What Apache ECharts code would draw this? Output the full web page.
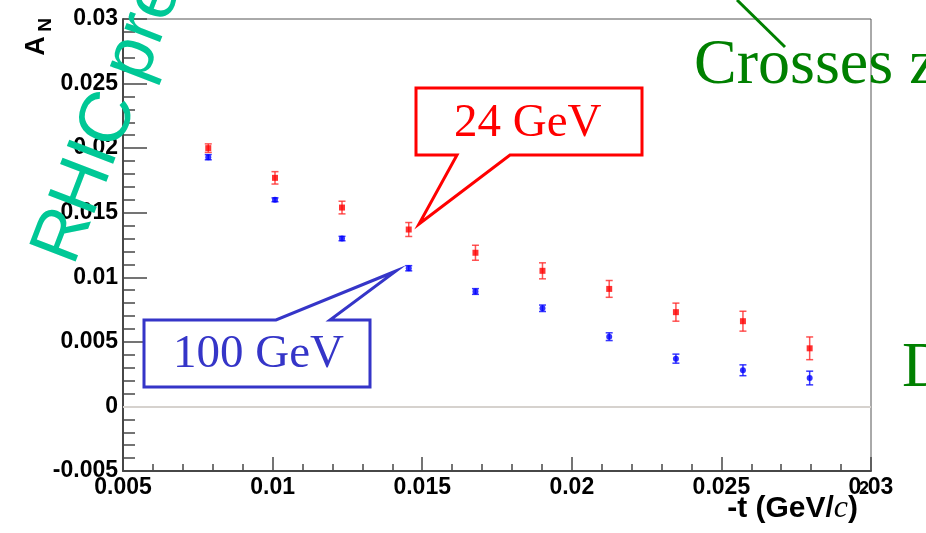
<!DOCTYPE html>
<html>
<head>
<meta charset="utf-8">
<script src="https://cdn.jsdelivr.net/npm/echarts@6/dist/echarts.min.js"></script>
<style>
  html, body { margin: 0; padding: 0; background: #fff; }
  #main { width: 926px; height: 533px; }
</style>
</head>
<body>
<div id="main"></div>
<script>
// -t values (GeV/c)^2 shared by both beam energies
const tValues = [0.00785, 0.01008, 0.01232, 0.01455, 0.01678, 0.01902, 0.02125, 0.02348, 0.02572, 0.02795];
// A_N at 24 GeV with uncertainties
const an24 = [0.0200, 0.0177, 0.0154, 0.0137, 0.0119, 0.0105, 0.0091, 0.0073, 0.0066, 0.0045];
const err24 = [0.00033, 0.00048, 0.00049, 0.00054, 0.00058, 0.00062, 0.00065, 0.00070, 0.00077, 0.00088];
// A_N at 100 GeV with uncertainties
const an100 = [0.0193, 0.0160, 0.0130, 0.0107, 0.0089, 0.0076, 0.0054, 0.0037, 0.0028, 0.0022];
const err100 = [0.00020, 0.00015, 0.00017, 0.00020, 0.00022, 0.00025, 0.00030, 0.00035, 0.00042, 0.00053];
// axis tick labels
const xTickLabels = ['0.005', '0.01', '0.015', '0.02', '0.025', '0.03'];
const yTickLabels = ['-0.005', '0', '0.005', '0.01', '0.015', '0.02', '0.025', '0.03'];

const AXIS_COLOR = '#474747';
const labelFont = { fontFamily: 'Liberation Sans', fontWeight: 'bold', fontSize: 23, color: '#000' };

function tickLabel(list, min, step) {
  return function (v) {
    const i = Math.round((v - min) / step);
    return list[i] !== undefined ? list[i] : '';
  };
}

function errorBars(values, errs, color) {
  return {
    type: 'custom',
    data: tValues.map((t, i) => [t, values[i] - errs[i], values[i] + errs[i]]),
    encode: { x: 0, y: [1, 2] },
    z: 3,
    silent: true,
    renderItem(params, api) {
      const x = api.value(0);
      const lo = api.coord([x, api.value(1)]);
      const hi = api.coord([x, api.value(2)]);
      const w = 3.5;
      const style = { stroke: color, lineWidth: 1.5 };
      return {
        type: 'group',
        children: [
          { type: 'line', shape: { x1: lo[0], y1: lo[1], x2: hi[0], y2: hi[1] }, style },
          { type: 'line', shape: { x1: lo[0] - w, y1: lo[1], x2: lo[0] + w, y2: lo[1] }, style },
          { type: 'line', shape: { x1: hi[0] - w, y1: hi[1], x2: hi[0] + w, y2: hi[1] }, style }
        ]
      };
    }
  };
}

const chart = echarts.init(document.getElementById('main'), null, { renderer: 'canvas' });

const option = {
  animation: false,
  backgroundColor: '#fff',
  grid: {
    left: 123, top: 19, right: 55, bottom: 62,
    show: true, borderColor: '#555', borderWidth: 1, backgroundColor: 'transparent'
  },
  xAxis: {
    type: 'value', min: 0.005, max: 0.03, interval: 0.005,
    axisLine: { show: true, onZero: false, lineStyle: { color: AXIS_COLOR, width: 2 } },
    axisTick: { show: true, inside: true, length: 14, lineStyle: { color: AXIS_COLOR, width: 1.5 } },
    minorTick: { show: true, splitNumber: 5, length: 7, lineStyle: { color: AXIS_COLOR, width: 1.5 } },
    splitLine: { show: false },
    axisLabel: Object.assign({ margin: 5, formatter: tickLabel(xTickLabels, 0.005, 0.005) }, labelFont)
  },
  yAxis: {
    type: 'value', min: -0.005, max: 0.03, interval: 0.005,
    axisLine: { show: true, onZero: false, lineStyle: { color: AXIS_COLOR, width: 2 } },
    axisTick: { show: true, inside: true, length: 24, lineStyle: { color: AXIS_COLOR, width: 1.5 } },
    minorTick: { show: true, splitNumber: 5, length: 12, lineStyle: { color: AXIS_COLOR, width: 1.5 } },
    splitLine: { show: false },
    axisLabel: Object.assign({ margin: 5, formatter: tickLabel(yTickLabels, -0.005, 0.005) }, labelFont)
  },
  series: [
    errorBars(an24, err24, 'rgba(255,40,40,0.8)'),
    errorBars(an100, err100, 'rgba(20,20,255,0.85)'),
    {
      name: '24 GeV', type: 'scatter', symbol: 'rect', symbolSize: 6, z: 4,
      itemStyle: { color: '#ff0000' },
      data: tValues.map((t, i) => [t, an24[i]]),
      markLine: {
        silent: true, symbol: 'none', label: { show: false }, z: 1,
        lineStyle: { color: '#d6d2ce', width: 2, type: 'solid' },
        data: [{ yAxis: 0 }]
      }
    },
    {
      name: '100 GeV', type: 'scatter', symbol: 'circle', symbolSize: 6, z: 4,
      itemStyle: { color: '#0000ff' },
      data: tValues.map((t, i) => [t, an100[i]])
    }
  ],
  graphic: [
    // 24 GeV callout
    {
      type: 'polygon', z: 50,
      shape: { points: [[416, 88], [642, 88], [642, 155], [510, 155], [419, 224], [457, 155], [416, 155]] },
      style: { fill: '#fff', stroke: '#ff0000', lineWidth: 3, lineJoin: 'miter' }
    },
    {
      type: 'text', x: 454, y: 124, z: 51,
      style: { text: '24 GeV', font: '47px "Liberation Serif"', fill: '#ff0000', align: 'left', verticalAlign: 'middle' }
    },
    // 100 GeV callout
    {
      type: 'polygon', z: 50,
      shape: { points: [[144, 320], [276, 320], [396, 271], [330, 320], [370, 320], [370, 387], [144, 387]] },
      style: { fill: '#fff', stroke: '#3535c8', lineWidth: 3, lineJoin: 'miter' }
    },
    {
      type: 'text', x: 173, y: 355, z: 51,
      style: { text: '100 GeV', font: '47px "Liberation Serif"', fill: '#3535c8', align: 'left', verticalAlign: 'middle' }
    },
    // green notes on the right
    {
      type: 'line', z: 52,
      shape: { x1: 737, y1: 0, x2: 785, y2: 47 },
      style: { stroke: '#008000', lineWidth: 3 }
    },
    {
      type: 'text', x: 694, y: 66, z: 52,
      style: { text: 'Crosses z', font: '64px "Liberation Serif"', fill: '#008000', align: 'left', verticalAlign: 'middle' }
    },
    {
      type: 'text', x: 902, y: 369, z: 52,
      style: { text: 'D', font: '64px "Liberation Serif"', fill: '#008000', align: 'left', verticalAlign: 'middle' }
    },
    // axis titles
    {
      type: 'text', x: 37, y: 46, rotation: Math.PI / 2, z: 52,
      style: { text: 'A', font: 'bold 27px "Liberation Sans"', fill: '#000', align: 'center', verticalAlign: 'middle' }
    },
    {
      type: 'text', x: 46, y: 25, rotation: Math.PI / 2, z: 52,
      style: { text: 'N', font: 'bold 19px "Liberation Sans"', fill: '#000', align: 'center', verticalAlign: 'middle' }
    },
    {
      type: 'text', x: 858, y: 509, z: 52,
      style: {
        text: '{s|-t (GeV/}{i|c}{s|)}', align: 'right', verticalAlign: 'middle',
        rich: {
          s: { font: 'bold 30px "Liberation Sans"', fill: '#000' },
          i: { font: 'italic 32px "Liberation Serif"', fill: '#000' }
        }
      }
    },
    {
      type: 'text', x: 859, y: 489, z: 52,
      style: { text: '2', font: 'bold 18px "Liberation Sans"', fill: '#000', align: 'left', verticalAlign: 'middle' }
    },
    // watermark
    {
      type: 'text', x: 55, y: 260, rotation: 69 * Math.PI / 180, z: 60,
      style: { text: 'RHIC pre', font: '72px "Liberation Sans"', fill: '#00c896', align: 'left', verticalAlign: 'middle' }
    }
  ]
};

chart.setOption(option);
</script>
</body>
</html>
